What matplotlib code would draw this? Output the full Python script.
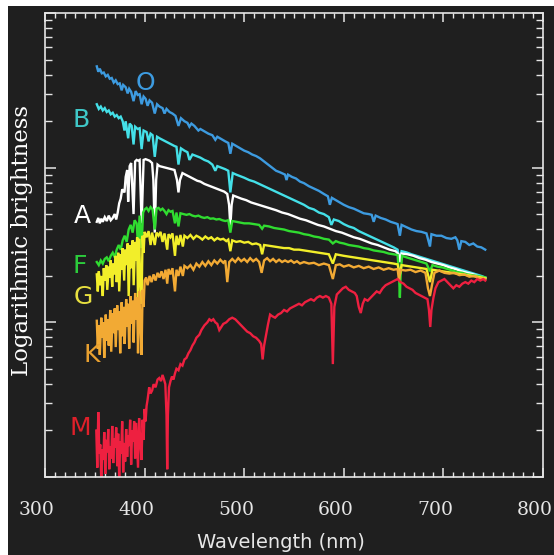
import matplotlib
matplotlib.use("Agg")
import matplotlib.pyplot as plt
import numpy as np
from matplotlib.patches import Rectangle
from matplotlib.ticker import MultipleLocator, LogLocator, NullFormatter
from matplotlib.transforms import ScaledTranslation

# spectra: wavelength (nm) and log10 brightness (arbitrary zero)
o_wl = [352, 353.5, 355, 357, 359, 361, 363, 365, 367, 369, 371, 373, 375, 377, 378.5, 381, 383, 384.5,
        386.5, 388.9, 391, 393, 395, 397, 399, 401, 403, 405, 407.5, 410.2, 412.5, 415, 418, 420, 422,
        425, 428, 431, 434, 436.5, 440, 443, 445, 447, 450, 454, 456, 460, 464, 468, 471, 473, 477, 481,
        484, 486.1, 488, 492, 496, 500, 504, 508, 512, 516, 520, 524, 528, 532, 536, 541, 542.5, 544, 548,
        552, 556, 560, 565, 570, 575, 580, 584, 586, 588, 592, 596, 600, 605, 610, 615, 620, 625, 628, 630,
        632, 637, 642, 647, 652, 654, 656.3, 658, 663, 668, 673, 678, 683, 686.5, 688, 693, 698, 703, 708,
        712, 714, 716, 718, 722, 726, 730, 734, 738, 742]
o_lb = [2.655, 2.62, 2.64, 2.61, 2.615, 2.59, 2.60, 2.575, 2.58, 2.55, 2.565, 2.54, 2.545, 2.50, 2.535,
        2.52, 2.48, 2.51, 2.49, 2.43, 2.495, 2.47, 2.475, 2.41, 2.46, 2.445, 2.40, 2.435, 2.42, 2.35, 2.41,
        2.395, 2.385, 2.35, 2.38, 2.36, 2.35, 2.335, 2.27, 2.32, 2.30, 2.29, 2.265, 2.285, 2.27, 2.24, 2.25,
        2.235, 2.22, 2.21, 2.18, 2.20, 2.185, 2.17, 2.16, 2.09, 2.155, 2.14, 2.125, 2.11, 2.10, 2.085, 2.075,
        2.06, 2.04, 2.02, 2.0, 1.98, 1.97, 1.955, 1.92, 1.955, 1.94, 1.93, 1.91, 1.90, 1.88, 1.865, 1.85,
        1.83, 1.815, 1.76, 1.805, 1.79, 1.775, 1.76, 1.745, 1.735, 1.72, 1.705, 1.70, 1.695, 1.65, 1.69,
        1.675, 1.665, 1.65, 1.64, 1.635, 1.56, 1.63, 1.615, 1.60, 1.59, 1.585, 1.575, 1.49, 1.57, 1.56,
        1.56, 1.545, 1.54, 1.55, 1.53, 1.47, 1.525, 1.52, 1.50, 1.51, 1.49, 1.485, 1.47]

b_wl = [352, 354, 356, 358, 360, 362, 364, 366, 368, 370, 372, 374, 376, 378, 379.8, 381, 383.5, 385, 387,
        388.9, 390.5, 393, 395, 397, 399, 402, 404, 406, 408, 410.2, 412.5, 415, 418, 421, 424, 427, 430,
        432, 434, 436.5, 440, 443, 445, 448, 452, 456, 460, 464, 468, 471, 473, 477, 481, 484, 486.1, 488.5,
        492, 496, 500, 505, 510, 515, 520, 525, 530, 535, 540, 545, 550, 555, 560, 565, 570, 575, 580, 585,
        587.5, 590, 595, 600, 605, 610, 615, 620, 625, 630, 635, 640, 645, 650, 654, 656.3, 658, 663, 668,
        673, 678, 683, 688, 693, 698, 703, 708, 713, 718, 723, 728, 733, 738, 742]
b_lb = [2.41, 2.38, 2.395, 2.37, 2.385, 2.36, 2.37, 2.345, 2.355, 2.33, 2.34, 2.32, 2.33, 2.30, 2.24, 2.30,
        2.19, 2.285, 2.27, 2.15, 2.265, 2.25, 2.255, 2.12, 2.24, 2.23, 2.17, 2.22, 2.21, 2.07, 2.20, 2.19,
        2.18, 2.17, 2.16, 2.15, 2.14, 2.135, 2.02, 2.125, 2.11, 2.10, 2.05, 2.085, 2.075, 2.065, 2.05, 2.04,
        2.02, 1.98, 2.01, 2.0, 1.99, 1.98, 1.84, 1.965, 1.955, 1.945, 1.935, 1.92, 1.91, 1.895, 1.88, 1.865,
        1.85, 1.835, 1.82, 1.805, 1.79, 1.775, 1.76, 1.74, 1.73, 1.71, 1.70, 1.68, 1.63, 1.665, 1.655,
        1.635, 1.62, 1.61, 1.59, 1.575, 1.56, 1.545, 1.53, 1.515, 1.50, 1.485, 1.47, 1.39, 1.46, 1.452,
        1.44, 1.43, 1.42, 1.41, 1.40, 1.39, 1.38, 1.37, 1.36, 1.35, 1.34, 1.33, 1.32, 1.31, 1.30, 1.29]

a_wl = [352, 353.5, 355, 356.5, 358, 360, 362, 364, 366, 368, 370, 371.5, 373, 374.5, 376, 377.5, 379.8,
        381, 382.5, 383.5, 385, 386.5, 388.9, 390.5, 392, 393.5, 395, 397, 399, 401, 403, 405, 407.5,
        408.8, 410.2, 411.6, 413, 415, 418, 421, 424, 427, 430, 432.5, 434, 435.5, 438, 441, 444, 447,
        450, 453, 456, 460, 464, 468, 472, 476, 480, 483, 484.8, 486.1, 487.4, 489, 493, 497, 502, 507,
        512, 517, 522, 527, 532, 538, 544, 550, 556, 562, 568, 574, 580, 586, 592, 598, 604, 610, 616,
        622, 628, 634, 640, 646, 652, 655, 656.3, 658, 664, 670, 676, 682, 688, 694, 700, 706, 712, 718,
        724, 730, 736, 742]
a_lb = [1.65, 1.675, 1.64, 1.67, 1.65, 1.68, 1.655, 1.69, 1.66, 1.675, 1.70, 1.665, 1.71, 1.77, 1.80,
        1.86, 1.84, 1.94, 1.985, 1.78, 2.01, 2.03, 1.70, 2.04, 2.05, 2.045, 2.05, 1.64, 2.05, 2.055, 2.05,
        2.045, 2.03, 1.92, 1.58, 1.92, 2.02, 2.01, 2.005, 2.0, 1.995, 1.99, 1.985, 1.92, 1.84, 1.92, 1.965,
        1.955, 1.945, 1.935, 1.925, 1.915, 1.91, 1.895, 1.885, 1.875, 1.865, 1.855, 1.845, 1.83, 1.76,
        1.62, 1.76, 1.82, 1.81, 1.80, 1.79, 1.775, 1.765, 1.755, 1.745, 1.735, 1.725, 1.71, 1.70, 1.685,
        1.67, 1.66, 1.645, 1.63, 1.62, 1.605, 1.59, 1.58, 1.565, 1.55, 1.54, 1.525, 1.51, 1.50, 1.485,
        1.47, 1.46, 1.44, 1.39, 1.445, 1.44, 1.43, 1.415, 1.405, 1.39, 1.38, 1.37, 1.355, 1.345, 1.33,
        1.32, 1.31, 1.295, 1.285]

f_wl = [352, 354, 356, 358, 360, 362, 364, 366, 368, 370, 372, 374, 376, 378, 380, 382, 384, 386, 388,
        390, 392, 393.4, 395, 396.9, 398.5, 400, 402, 404, 406, 408, 410.2, 412, 414, 416, 418, 420, 422,
        424, 426, 428, 430.5, 432, 434, 436, 439, 442, 445, 448, 451, 454, 457, 460, 463, 466, 469, 472,
        475, 478, 481, 484, 486.1, 488, 492, 496, 500, 505, 510, 515, 518, 520, 525, 530, 535, 540, 545,
        550, 555, 560, 565, 570, 575, 580, 585, 589, 592, 596, 600, 605, 610, 615, 620, 625, 630, 635,
        640, 645, 650, 654, 655.5, 656.3, 657, 658.5, 663, 668, 673, 678, 683, 686.5, 689, 694, 699, 704,
        709, 714, 719, 724, 729, 734, 738, 742]
f_lb = [1.39, 1.37, 1.40, 1.38, 1.41, 1.42, 1.395, 1.43, 1.45, 1.42, 1.47, 1.50, 1.47, 1.53, 1.56, 1.52,
        1.60, 1.63, 1.58, 1.66, 1.64, 1.50, 1.69, 1.48, 1.71, 1.73, 1.74, 1.72, 1.745, 1.73, 1.60, 1.735,
        1.74, 1.725, 1.735, 1.72, 1.70, 1.725, 1.715, 1.72, 1.64, 1.71, 1.62, 1.705, 1.70, 1.695, 1.70,
        1.69, 1.685, 1.69, 1.68, 1.675, 1.68, 1.67, 1.672, 1.665, 1.668, 1.66, 1.655, 1.66, 1.58, 1.655,
        1.65, 1.645, 1.64, 1.64, 1.635, 1.63, 1.605, 1.625, 1.62, 1.61, 1.605, 1.60, 1.59, 1.585, 1.58,
        1.57, 1.565, 1.555, 1.55, 1.54, 1.535, 1.51, 1.525, 1.515, 1.51, 1.50, 1.495, 1.49, 1.48, 1.475,
        1.465, 1.46, 1.455, 1.445, 1.44, 1.435, 1.30, 1.16, 1.30, 1.43, 1.42, 1.41, 1.40, 1.39, 1.38,
        1.33, 1.37, 1.36, 1.355, 1.345, 1.335, 1.325, 1.32, 1.31, 1.305, 1.30, 1.295, 1.29]

g_wl = [352, 353, 354, 355.5, 356.5, 358, 359, 360, 361.5, 362.5, 364, 365, 366, 367.5, 368.5, 370,
        371, 372, 373.5, 374.5, 376, 377, 378, 379.5, 380.5, 382, 383, 384, 385.5, 386.5, 388, 389,
        390.5, 391.5, 392.5, 393.4, 394.5, 395.5, 396.9, 398, 399, 400, 402, 404, 406, 407.5, 410.2,
        412, 414, 416, 418, 420, 422.7, 424, 426, 428, 430.5, 432, 434, 436, 438.4, 440, 443, 446, 449,
        452, 455, 458, 461, 464, 467, 470, 473, 476, 479, 482, 484, 486.1, 488, 492, 496, 500, 504, 508,
        512, 516, 518, 520, 525, 530, 535, 540, 545, 550, 555, 560, 565, 570, 575, 580, 585, 589, 592,
        596, 600, 605, 610, 615, 620, 625, 630, 635, 640, 645, 650, 654, 656.3, 658, 663, 668, 673, 678,
        683, 686.5, 689, 694, 699, 704, 709, 714, 719, 724, 729, 734, 738, 742]
g_lb = [1.31, 1.20, 1.33, 1.24, 1.30, 1.17, 1.35, 1.27, 1.37, 1.21, 1.36, 1.29, 1.40, 1.23, 1.38,
        1.31, 1.43, 1.26, 1.45, 1.20, 1.44, 1.34, 1.48, 1.27, 1.47, 1.37, 1.51, 1.17, 1.50, 1.35, 1.53,
        1.24, 1.52, 1.40, 1.55, 1.14, 1.54, 1.30, 1.12, 1.56, 1.45, 1.585, 1.55, 1.59, 1.50, 1.58, 1.50,
        1.58, 1.56, 1.585, 1.52, 1.575, 1.47, 1.57, 1.55, 1.575, 1.43, 1.56, 1.50, 1.565, 1.49, 1.56,
        1.545, 1.565, 1.54, 1.56, 1.55, 1.535, 1.555, 1.54, 1.55, 1.53, 1.545, 1.535, 1.54, 1.525, 1.535,
        1.46, 1.53, 1.52, 1.525, 1.515, 1.52, 1.505, 1.51, 1.50, 1.44, 1.50, 1.495, 1.49, 1.485, 1.48,
        1.48, 1.47, 1.47, 1.465, 1.46, 1.455, 1.45, 1.445, 1.44, 1.38, 1.44, 1.435, 1.43, 1.425, 1.42,
        1.415, 1.41, 1.405, 1.40, 1.395, 1.39, 1.385, 1.38, 1.375, 1.31, 1.37, 1.365, 1.36, 1.355, 1.35,
        1.345, 1.26, 1.34, 1.335, 1.33, 1.325, 1.32, 1.315, 1.31, 1.305, 1.30, 1.295, 1.29, 1.285]

k_wl = [352, 353, 354, 355, 356.5, 357.5, 358.5, 359.5, 361, 362, 363, 364, 365.5, 366.5, 368, 369,
        370, 371, 372.5, 373.5, 374.5, 375.5, 377, 378, 379, 380, 381.5, 382.5, 383.5, 384.5, 386, 387,
        388, 389, 390.5, 391.5, 392.5, 393.4, 394.5, 395.5, 396.9, 398, 399,
        400, 401.5, 403, 405, 407, 409, 411, 413, 415, 417, 419, 421, 422.7, 424, 426, 428, 430.5, 432,
        434, 436, 438.4, 440, 443, 446, 449, 452, 455, 458, 461, 464, 467, 470, 473, 476, 479, 481, 483,
        485, 488, 491, 494, 497, 500, 503, 506, 509, 512, 515, 517.5, 520, 523, 526, 529, 532, 535, 538,
        541, 544, 547, 550, 553, 556, 560, 565, 570, 575, 580, 585, 589, 592, 596, 600, 605, 610, 615, 620,
        625, 630, 635, 640, 645, 650, 654, 655.5, 657, 662, 667, 672, 677, 682, 684.5, 686.5, 688.5, 691,
        696, 701, 706, 711, 716, 721, 726, 731, 736, 742]
k_lb = [1.01, 0.83, 0.98, 0.79, 1.03, 0.90, 1.00, 0.77, 1.05, 0.88, 1.02, 0.85, 1.08, 0.81, 1.06, 0.93,
        1.09, 0.84, 1.11, 0.95, 1.07, 0.80, 1.13, 0.91, 1.10, 0.86, 1.15, 0.97, 1.12, 0.83, 1.17, 0.99,
        1.14, 0.87, 1.19, 1.02, 1.16, 0.80, 1.20, 1.05, 0.79, 1.21, 1.10,
        1.27, 1.29, 1.24, 1.30, 1.26, 1.31, 1.27, 1.32, 1.29, 1.33, 1.28, 1.34, 1.25, 1.345, 1.31, 1.35,
        1.20, 1.34, 1.30, 1.36, 1.30, 1.365, 1.35, 1.37, 1.34, 1.38, 1.36, 1.39, 1.365, 1.395, 1.37, 1.40,
        1.38, 1.405, 1.385, 1.40, 1.26, 1.39, 1.41, 1.39, 1.415, 1.395, 1.41, 1.39, 1.415, 1.395, 1.41,
        1.39, 1.32, 1.40, 1.415, 1.395, 1.41, 1.39, 1.405, 1.39, 1.40, 1.39, 1.40, 1.385, 1.395, 1.38,
        1.39, 1.38, 1.385, 1.37, 1.38, 1.37, 1.28, 1.37, 1.375, 1.36, 1.37, 1.355, 1.365, 1.35, 1.36,
        1.345, 1.355, 1.34, 1.35, 1.34, 1.345, 1.27, 1.34, 1.335, 1.34, 1.325, 1.335, 1.32, 1.22, 1.17,
        1.24, 1.32, 1.335, 1.32, 1.315, 1.32, 1.305, 1.31, 1.295, 1.30, 1.285, 1.28]

m_wl = [351.5, 352.5, 353.5, 354.5, 355.5, 356.5, 357.5, 358.5, 359.5, 360.5, 361.5, 362.5, 363.5, 364.5,
        365.5, 366.5, 367.5, 368.5, 369.5, 370.5, 371.5, 372.5, 373.5, 374.5, 375.5, 376.5, 377.5, 378.5,
        379.5, 380.5, 381.5, 382.5, 383.5, 384.5, 385.5, 386.5, 387.5, 388.5, 389.5, 390.5, 391.5, 392.5,
        393.4, 394.5, 395.5, 396.9, 398, 399, 400, 401, 402, 403, 404.6, 406, 407.6, 409, 411, 413, 414.7,
        416.5, 418, 419.5, 420.8, 422, 422.7, 423.4, 424.5, 426, 427.5, 429, 430.5, 432, 434, 436, 438,
        440, 442, 444, 446, 448, 450, 452, 455, 457, 460, 463, 465, 467, 469, 471, 473, 475, 477, 479, 482,
        485, 488, 491, 494, 497, 500, 503, 506, 509, 512, 515, 517, 518.5, 520, 522, 524, 526, 528, 531,
        534, 537, 540, 543, 546, 549, 552, 555, 558, 561, 564, 567, 570, 573, 576, 579, 582, 585, 587.5,
        589, 590.5, 593, 596, 599, 602, 605, 608, 611, 613, 615, 617, 619, 621, 624, 627, 630, 633, 636,
        639, 642, 645, 648, 651, 654, 657, 660, 663, 666, 669, 672, 675, 678, 681, 684, 685.5, 686.8, 688,
        690, 692, 695, 698, 701, 704, 707, 710, 713, 716, 719, 722, 725, 728, 731, 734, 737, 740, 742]
m_lb = [0.30, 0.06, 0.42, 0.15, 0.21, -0.02, 0.18, 0.11, 0.29, 0.02, 0.24, 0.16, 0.31, 0.05, 0.20, 0.12,
        0.33, 0.09, 0.25, 0.19, 0.32, 0.07, 0.28, -0.01, 0.23, 0.15, 0.36, 0.03, 0.22, 0.10, 0.31, 0.13,
        0.27, 0.20, 0.37, 0.08, 0.30, 0.23, 0.36, 0.12, 0.35, 0.19, 0.06, 0.38, 0.25, 0.11, 0.37, 0.24,
        0.44, 0.36, 0.46, 0.50, 0.58, 0.54, 0.56, 0.60, 0.58, 0.63, 0.64, 0.62, 0.66, 0.63, 0.60, 0.40,
        0.05, 0.40, 0.58, 0.62, 0.65, 0.63, 0.67, 0.70, 0.69, 0.73, 0.72, 0.76, 0.77, 0.80, 0.82, 0.85,
        0.87, 0.90, 0.92, 0.95, 0.98, 1.00, 1.02, 1.01, 1.02, 1.00, 0.99, 0.95, 0.97, 0.99, 1.00, 1.02,
        1.03, 1.02, 1.00, 0.98, 0.96, 0.94, 0.93, 0.91, 0.90, 0.88, 0.86, 0.76, 0.85, 0.92, 0.99, 1.05,
        1.04, 1.03, 1.05, 1.06, 1.08, 1.07, 1.09, 1.10, 1.11, 1.12, 1.11, 1.13, 1.14, 1.15, 1.14, 1.16,
        1.17, 1.16, 1.17, 1.16, 1.12, 0.73, 1.10, 1.18, 1.20, 1.22, 1.23, 1.21, 1.20, 1.19, 1.17, 1.10,
        1.06, 1.12, 1.15, 1.14, 1.16, 1.18, 1.20, 1.19, 1.22, 1.24, 1.25, 1.26, 1.27, 1.28, 1.26, 1.25,
        1.23, 1.22, 1.21, 1.19, 1.18, 1.17, 1.16, 1.15, 1.08, 0.97, 1.08, 1.16, 1.22, 1.26, 1.27, 1.28,
        1.26, 1.24, 1.22, 1.24, 1.23, 1.25, 1.26, 1.25, 1.27, 1.26, 1.28, 1.27, 1.28, 1.27]

classes = ['O', 'B', 'A', 'F', 'G', 'K', 'M']
line_colors = ['#3d9be0', '#44e0e8', '#ffffff', '#30dc30', '#f2ee2a', '#f2aa34', '#ee2040']
label_colors = ['#3d9be0', '#3fc8c8', '#ffffff', '#2ccc3c', '#e8e040', '#e8a030', '#e0202a']
# label anchor points (nm, log brightness)
label_wl = [400.6, 336.2, 337.2, 335.2, 338.2, 347.3, 335.2]
label_lb = [2.547, 2.308, 1.687, 1.364, 1.164, 0.789, 0.317]

spectra = [(o_wl, o_lb), (b_wl, b_lb), (a_wl, a_lb), (f_wl, f_lb),
           (g_wl, g_lb), (k_wl, k_lb), (m_wl, m_lb)]

BG = '#1f1f1f'
FG = '#e6e6e6'

fig = plt.figure(figsize=(5.54, 5.55), dpi=100, facecolor='white')
# dark canvas, leaving the thin white strip on the top and left edges
fig.patches.append(Rectangle((8 / 554, 0), 1, (555 - 6) / 555, transform=fig.transFigure,
                             facecolor=BG, edgecolor='none', zorder=-10))
ax = fig.add_axes([45 / 554, 78 / 555, 498 / 554, 464 / 555])
ax.set_facecolor(BG)

for (wl, lb), col in zip(spectra, line_colors):
    ax.plot(wl, 10 ** np.asarray(lb), color=col, lw=1.7, solid_joinstyle='miter')

for name, col, lx, ly in zip(classes, label_colors, label_wl, label_lb):
    ax.text(lx, 10 ** ly, name, color=col, fontsize=18, ha='center', va='center',
            family='DejaVu Sans')

ax.set_xlim(300, 800)
ax.set_yscale('log')
ax.set_ylim(1, 1000)

ax.xaxis.set_major_locator(MultipleLocator(100))
ax.xaxis.set_minor_locator(MultipleLocator(10))
ax.yaxis.set_major_locator(LogLocator(base=10))
ax.yaxis.set_minor_locator(LogLocator(base=10, subs=np.arange(2, 10)))
ax.yaxis.set_major_formatter(NullFormatter())
ax.yaxis.set_minor_formatter(NullFormatter())

ax.tick_params(axis='x', which='major', direction='in', length=6.5, width=1.1, color=FG,
               top=True, bottom=True, pad=17, labelsize=13.5, labelcolor=FG)
ax.tick_params(axis='x', which='minor', direction='in', length=3.5, width=1.0, color=FG,
               top=True, bottom=True)
ax.tick_params(axis='y', which='major', direction='in', length=8, width=1.1, color=FG,
               left=True, right=True)
ax.tick_params(axis='y', which='minor', direction='in', length=5, width=1.0, color=FG,
               left=True, right=True)
for lab in ax.get_xticklabels():
    lab.set_family('DejaVu Serif')
    lab.set_transform(lab.get_transform() + ScaledTranslation(-8 / 100, 0, fig.dpi_scale_trans))

for sp in ax.spines.values():
    sp.set_color(FG)
    sp.set_linewidth(1.2)

fig.text(22 / 554, (555 - 241) / 555, 'Logarithmic brightness', rotation=90, color='white',
         fontsize=16.5, family='DejaVu Serif', ha='center', va='center')
fig.text(281 / 554, (555 - 543) / 555, 'Wavelength (nm)', color=FG, fontsize=14,
         family='DejaVu Sans', ha='center', va='center')

fig.savefig('out.png', dpi=100, facecolor=fig.get_facecolor())
